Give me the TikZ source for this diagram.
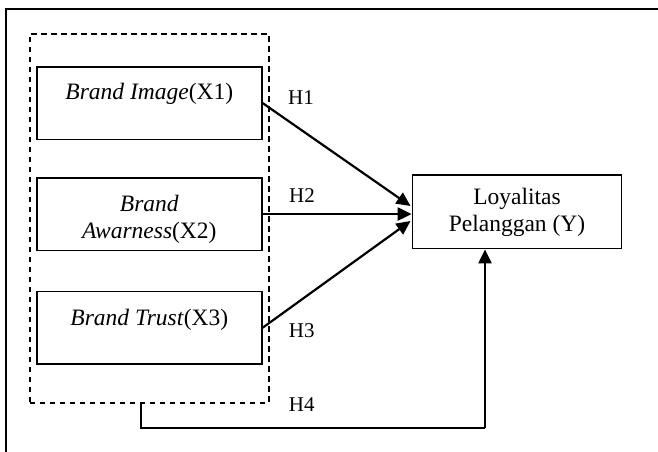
\documentclass[tikz,border=0pt]{standalone}
\usepackage{fontspec}
\setmainfont{Liberation Serif}
\usetikzlibrary{arrows.meta}
\begin{document}
\begin{tikzpicture}[x=1pt,y=-1pt,
  frame/.style={line width=2.2pt},
  group/.style={draw,dashed,dash pattern=on 5.5pt off 4.5pt,line width=1.6pt,
    minimum width=239pt,minimum height=369pt,inner sep=0pt,anchor=north west},
  varbox/.style={draw,line width=1.6pt,minimum width=225pt,minimum height=72.5pt,
    inner sep=0pt,anchor=north west},
  ybox/.style={draw,line width=1.6pt,minimum width=209pt,minimum height=73.5pt,
    inner sep=0pt,anchor=north west},
  boxtext/.style={anchor=base,align=center,font=\fontsize{23.5}{26.5}\selectfont},
  hlabel/.style={anchor=base west,inner sep=0pt,font=\fontsize{21}{24}\selectfont},
  path/.style={line width=2.2pt,-{Triangle[length=14pt,width=13pt]}},
  link/.style={line width=1.7pt}]
\useasboundingbox (0,0) rectangle (658,452);

% open frame: top and left edges only
\draw[frame] (6,452) -- (6,9) -- (658,9);

% group of independent variables
\node[group] (grp) at (29,33) {};

\node[varbox] (x1) at (36,66) {};
\node[boxtext] at ([yshift=-33pt]x1.north) {\textit{Brand Image}(X1)};

% two-line texts sit on the baseline of their last line
\node[varbox] (x2) at (36,177) {};
\node[boxtext] at ([yshift=-61pt]x2.north) {\textit{Brand}\\\textit{Awarness}(X2)};

\node[varbox] (x3) at (36,290.7) {};
\node[boxtext] at ([yshift=-35pt]x3.north) {\textit{Brand Trust}(X3)};

% dependent variable
\node[ybox] (y) at (411.7,174.3) {};
\node[boxtext] at ([yshift=-57pt]y.north) {Loyalitas\\Pelanggan (Y)};

% hypotheses
\coordinate (t1) at (410.5,206);
\coordinate (t3) at (410.5,221);
\draw[path] (x1.east) -- (t1);
\draw[path] (x2.east) -- (y.west |- x2.east);
\draw[path] (x3.east) -- (t3);

\coordinate (g4) at (141,401.7);
\coordinate (b4) at (141,427.7);
\coordinate (c4) at (485,427.7);
\draw[link] (g4) -- (b4) -- (c4);
\draw[path] (c4) -- (c4 |- y.south);

\node[hlabel] (h1) at (288,104) {H1};
\node[hlabel] (h2) at (289,202.5) {H2};
\node[hlabel] (h3) at (288.7,337.3) {H3};
\node[hlabel] (h4) at (288.7,411.7) {H4};
\end{tikzpicture}
\end{document}
